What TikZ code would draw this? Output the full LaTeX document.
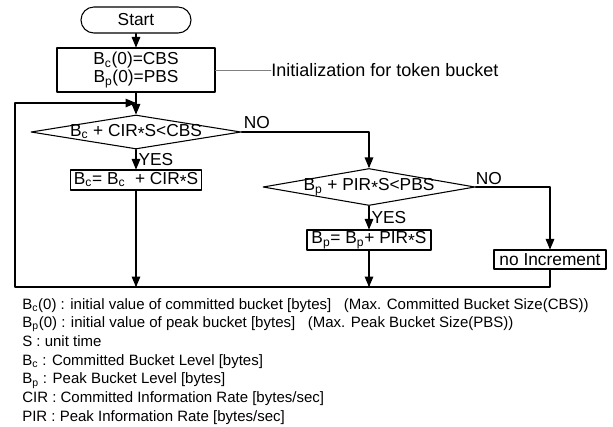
\documentclass[tikz,border=0pt]{standalone}
\usepackage{fontspec}
\setmainfont{Liberation Sans}
\usetikzlibrary{arrows,shapes.geometric}
\newcommand{\mulsign}{\raisebox{-0.35ex}{*}}
\tikzset{
  flowline/.style={line width=0.8pt},
  flowtext/.style={font=\fontsize{13pt}{13.5pt}\selectfont},
  startbox/.style={draw, line width=0.8pt, rectangle, rounded corners=9.7pt, minimum width=82.5pt, minimum height=19.5pt, inner sep=0pt, flowtext},
  procbox/.style={draw, line width=0.8pt, rectangle, inner sep=0pt, flowtext},
  decision/.style={draw, line width=0.8pt, diamond, inner sep=0pt, flowtext},
  legendtext/.style={font=\fontsize{11.25pt}{13pt}\selectfont, anchor=base west, inner sep=0pt}
}

\begin{document}
\begin{tikzpicture}[line cap=round,line join=round,>=triangle 45,x=0.75pt,y=-0.75pt]
\useasboundingbox (0,0) rectangle (613,426);

\node[startbox] (start) at (136,20) {Start};
\node[procbox, align=center, minimum width=118.5pt, minimum height=33pt] (init) at (136,70) {B\textsubscript{c}(0)=CBS\\B\textsubscript{p}(0)=PBS};
\node[font=\fontsize{13.5pt}{14pt}\selectfont, anchor=west, inner sep=0pt] (initnote) at (271,70) {Initialization for token bucket};
\node[decision, minimum width=157.5pt, minimum height=25.5pt] (testC) at (136,132) {\makebox[0pt]{B\textsubscript{c} + CIR\mulsign S<CBS}};
\node[procbox, minimum width=98.25pt, minimum height=15pt] (incC) at (136,180) {B\textsubscript{c}= B\textsubscript{c} ~+ CIR\mulsign S};
\node[decision, minimum width=159pt, minimum height=27.75pt] (testP) at (369,187) {\makebox[0pt]{B\textsubscript{p} + PIR\mulsign S<PBS}};
\node[procbox, minimum width=93pt, minimum height=15pt] (incP) at (369,240) {B\textsubscript{p}= B\textsubscript{p}+ PIR\mulsign S};
\node[procbox, minimum width=84pt, minimum height=14.25pt] (noinc) at (550,259.5) {no Increment};

\coordinate (merge) at (136,103);
\coordinate (topL) at (15,103);
\coordinate (bottomL) at (15,287);
\coordinate (bottomC) at (136,287);
\coordinate (bottomP) at (369,287);
\coordinate (bottomR) at (550,287);

\draw[->, flowline] (start) -- (init);
\draw[gray, line width=0.6pt] (init.east) -- (initnote.west);
\draw[->, flowline] (init) -- (testC);
\draw[->, flowline] (testC) -- node[flowtext, right, inner sep=1.5pt] (yesC) {YES} (incC);
\draw[->, flowline] (testC.east) -| node[flowtext, above, pos=0.06, inner sep=2pt] (noC) {NO} (testP.north);
\draw[->, flowline] (testP) -- node[flowtext, right, inner sep=1.5pt] (yesP) {YES} (incP);
\draw[->, flowline] (testP.east) -| node[flowtext, above, pos=0.09, inner sep=1pt] (noP) {NO} (noinc.north);
\draw[->, flowline] (incC) -- (bottomC);
\draw[->, flowline] (incP) -- (bottomP);
\draw[->, flowline] (noinc) -- (bottomR) -- (bottomL) -- (topL) -- (merge);

\foreach \txt [count=\i] in {
  {B\textsubscript{c}(0) : initial value of committed bucket [bytes] ~ (Max. Committed Bucket Size(CBS))},
  {B\textsubscript{p}(0) : initial value of peak bucket [bytes] ~ (Max. Peak Bucket Size(PBS))},
  {S : unit time},
  {B\textsubscript{c} : Committed Bucket Level [bytes]},
  {B\textsubscript{p} : Peak Bucket Level [bytes]},
  {CIR : Committed Information Rate [bytes/sec]},
  {PIR : Peak Information Rate [bytes/sec]}}
  \node[legendtext] (legend\i) at (22,{309+18.7*(\i-1)}) {\txt};
\end{tikzpicture}
\end{document}
